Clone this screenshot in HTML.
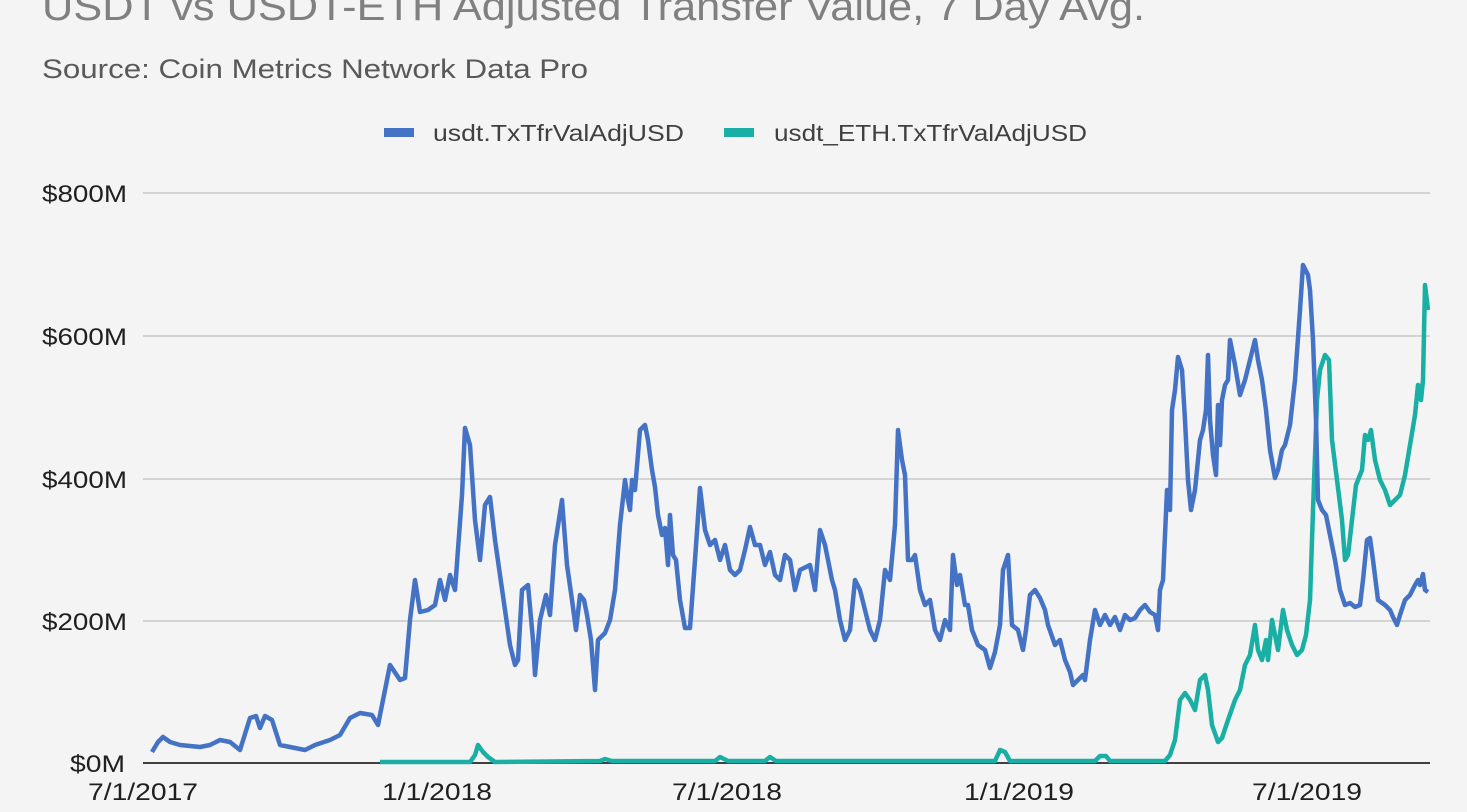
<!DOCTYPE html>
<html><head><meta charset="utf-8"><style>
html,body{margin:0;padding:0;background:#f4f4f4;}
svg{display:block;font-family:"Liberation Sans",sans-serif;}
</style></head><body>
<svg width="1467" height="812" viewBox="0 0 1467 812" xmlns="http://www.w3.org/2000/svg">
<rect width="1467" height="812" fill="#f4f4f4"/>
<text x="42" y="20" font-size="40" fill="#808080" textLength="1103" lengthAdjust="spacingAndGlyphs">USDT vs USDT-ETH Adjusted Transfer Value, 7 Day Avg.</text>
<text x="42" y="78" font-size="27" fill="#595959" textLength="546" lengthAdjust="spacingAndGlyphs">Source: Coin Metrics Network Data Pro</text>
<rect x="384" y="128" width="30" height="9" fill="#4472c4"/>
<text x="433" y="141" font-size="23" fill="#404040" textLength="251" lengthAdjust="spacingAndGlyphs">usdt.TxTfrValAdjUSD</text>
<rect x="724" y="128" width="30" height="9" fill="#1aafa5"/>
<text x="774" y="141" font-size="23" fill="#404040" textLength="313" lengthAdjust="spacingAndGlyphs">usdt_ETH.TxTfrValAdjUSD</text>
<g stroke="#c8c8c8" stroke-width="1.5">
<line x1="143" y1="193" x2="1430" y2="193"/><line x1="143" y1="336" x2="1430" y2="336"/>
<line x1="143" y1="479" x2="1430" y2="479"/><line x1="143" y1="621" x2="1430" y2="621"/>
</g>
<line x1="143" y1="763" x2="1430" y2="763" stroke="#404040" stroke-width="2"/>
<g font-size="24" fill="#202020">
<text x="42" y="202" textLength="85" lengthAdjust="spacingAndGlyphs">$800M</text>
<text x="42" y="345" textLength="85" lengthAdjust="spacingAndGlyphs">$600M</text>
<text x="42" y="488" textLength="85" lengthAdjust="spacingAndGlyphs">$400M</text>
<text x="42" y="630" textLength="85" lengthAdjust="spacingAndGlyphs">$200M</text>
<text x="70" y="772" textLength="55" lengthAdjust="spacingAndGlyphs">$0M</text>
</g>
<g font-size="24" fill="#202020">
<text x="88" y="800" textLength="110" lengthAdjust="spacingAndGlyphs">7/1/2017</text>
<text x="382" y="800" textLength="110" lengthAdjust="spacingAndGlyphs">1/1/2018</text>
<text x="672" y="800" textLength="110" lengthAdjust="spacingAndGlyphs">7/1/2018</text>
<text x="964" y="800" textLength="110" lengthAdjust="spacingAndGlyphs">1/1/2019</text>
<text x="1252" y="800" textLength="110" lengthAdjust="spacingAndGlyphs">7/1/2019</text>
</g>
<polyline fill="none" stroke="#1aafa5" stroke-width="4.5" stroke-linejoin="round" points="380,762 470,762 475,755 478,745 483,752 488,757 495,762 600,761 605,759 612,761 715,761 720,757 728,761 765,761 770,757 776,761 995,761 1000,750 1005,752 1010,761 1095,761 1100,756 1106,756 1110,761 1165,761 1170,755 1175,740 1180,700 1185,693 1190,700 1195,710 1200,680 1205,675 1208,690 1212,725 1218,742 1222,738 1228,720 1235,700 1240,690 1245,665 1250,655 1255,625 1258,650 1262,660 1266,640 1268,660 1272,620 1278,650 1283,610 1287,630 1292,645 1297,655 1302,650 1306,635 1310,600 1313,510 1317,400 1320,370 1325,355 1329,360 1332,440 1337,480 1342,520 1345,560 1348,555 1352,520 1356,485 1362,470 1365,435 1368,440 1371,430 1375,460 1380,480 1385,490 1390,505 1395,500 1400,495 1405,475 1410,445 1415,415 1418,385 1421,400 1423,380 1425,285 1428,310"/>
<polyline fill="none" stroke="#4472c4" stroke-width="4.5" stroke-linejoin="round" points="152,752 158,742 163,737 170,742 180,745 190,746 200,747 210,745 220,740 230,742 240,750 250,718 256,716 260,728 265,716 272,720 280,745 295,748 305,750 315,745 330,740 340,735 350,718 360,713 372,715 378,725 385,690 390,665 400,680 405,678 410,620 415,580 420,612 428,610 435,605 440,580 445,600 450,575 455,590 462,495 465,428 470,445 475,520 480,560 485,505 490,497 495,540 500,575 505,610 510,645 515,665 518,660 522,590 528,585 533,640 535,675 540,620 546,595 550,615 555,545 562,500 567,565 572,600 576,630 580,595 584,600 587,615 591,640 595,690 598,640 605,633 610,620 615,590 620,525 625,480 628,500 630,510 632,480 635,490 640,430 645,425 648,440 652,470 655,487 658,515 662,535 665,528 668,565 670,515 673,555 676,560 680,600 685,628 690,628 695,560 700,488 705,530 710,545 715,540 720,560 725,545 730,570 735,575 740,570 745,550 750,527 755,545 760,545 765,565 770,552 775,575 780,580 785,555 790,560 795,590 800,570 810,565 815,590 820,530 825,545 832,580 835,590 840,620 845,640 850,630 855,580 860,590 865,610 870,630 875,640 880,620 885,570 890,580 895,525 898,430 902,460 905,475 908,560 912,560 915,555 920,590 925,605 930,600 935,630 940,640 945,620 950,630 953,555 957,585 960,575 965,605 968,605 972,630 978,645 985,650 990,668 995,652 1000,625 1003,570 1008,555 1012,625 1018,630 1023,650 1026,630 1030,595 1035,590 1040,598 1045,610 1048,625 1055,645 1060,640 1065,660 1070,672 1073,685 1078,680 1083,675 1085,680 1090,640 1095,610 1100,625 1105,615 1110,625 1115,617 1120,630 1125,615 1130,620 1135,618 1140,610 1145,605 1150,612 1155,615 1158,630 1160,590 1163,580 1167,490 1170,510 1172,410 1175,390 1178,357 1182,370 1185,420 1188,480 1191,510 1195,490 1200,440 1203,430 1206,410 1208,355 1210,420 1213,455 1216,475 1218,405 1220,445 1222,400 1225,385 1228,380 1230,340 1235,365 1240,395 1245,380 1250,360 1255,340 1258,360 1262,380 1266,410 1270,450 1275,478 1278,470 1282,450 1285,445 1290,425 1295,380 1300,310 1303,265 1308,275 1310,290 1313,340 1316,420 1318,500 1322,510 1326,515 1330,535 1335,560 1340,590 1345,605 1350,603 1355,607 1360,605 1363,580 1367,540 1370,538 1373,560 1378,600 1385,605 1390,610 1393,617 1397,625 1400,615 1405,600 1410,595 1415,585 1418,580 1420,585 1423,574 1425,590 1428,592"/>
</svg>
</body></html>
